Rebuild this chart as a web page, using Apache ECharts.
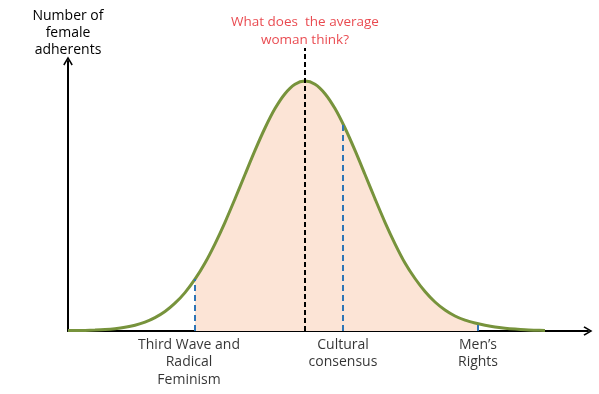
<!DOCTYPE html>
<html><head><meta charset="utf-8">
<script src="https://cdn.jsdelivr.net/npm/echarts@6/dist/echarts.min.js"></script>
<style>html,body{margin:0;padding:0;background:#fff}#c{width:599px;height:394px}</style>
</head><body><div id="c"></div>
<script>
// Curve readings (x = horizontal position, y = number of adherents)
const curveX = [0, 7, 17, 27, 37, 47, 57, 67, 77, 87, 97, 107, 117, 127, 137, 147, 157, 167, 177, 187, 197, 207, 217, 227, 237,
  247, 257, 267, 277, 287, 297, 307, 317, 327, 337, 347, 357, 367, 377, 387, 397, 407, 417, 427, 437, 447, 457, 467, 477];
const curveY = [0.4, 0.5, 0.6, 0.9, 1.4, 2.3, 3.7, 5.8, 8.9, 13.4, 19.5, 27.8, 38.4, 51.8, 68, 87.2, 108.7, 132.2, 156.5, 180.6, 203, 222.4, 237.3, 246.8, 250,
  246.8, 237.3, 222.4, 203, 180.6, 156.5, 132.2, 108.7, 87.2, 68, 52.5, 39.5, 29, 21, 15, 10.8, 8, 5.8, 4, 2.8, 1.9, 1.2, 0.8, 0.5];
// Fill region bounds (between the two outer markers)
const fillFrom = 127, fillTo = 410;
// Marker positions
const markerX = [127, 275, 410];
const markerY = [52, 207, 7.4];
const markerLabelX = [121, 275, 410];
const markerLabels = ['Third Wave and\nRadical\nFeminism', 'Cultural\nconsensus', 'Men\u2019s\nRights'];
// Average line
const avgX = 237, avgTop = 283;
const avgLabel = 'What does  the average\nwoman think?';
const yName = 'Number of\nfemale\nadherents';

const xMax = 520, yMax = 270;
const FONT = 'Open Sans';
const chevron = 'path://M0,10 L6,0 L12,10 L10.4,11.2 L6,3.6 L1.6,11.2 Z';

const curveData = curveX.map((x, i) => [x, curveY[i]]);
const minX = curveX[0], maxX = curveX[curveX.length - 1];
const s1 = (fillFrom - minX) / (maxX - minX), s2 = (fillTo - minX) / (maxX - minX);

const series = [
  {
    type: 'line', data: curveData, smooth: 0.3, symbol: 'none', z: 3,
    lineStyle: { color: '#77933C', width: 3 },
    areaStyle: {
      origin: 'start', opacity: 1,
      color: { type: 'linear', x: 0, y: 0, x2: 1, y2: 0, colorStops: [
        { offset: 0, color: 'rgba(252,228,214,0)' },
        { offset: s1 - 0.0001, color: 'rgba(252,228,214,0)' },
        { offset: s1, color: '#FCE4D6' },
        { offset: s2, color: '#FCE4D6' },
        { offset: s2 + 0.0001, color: 'rgba(252,228,214,0)' },
        { offset: 1, color: 'rgba(252,228,214,0)' }
      ] }
    },
    silent: true
  },
  {
    type: 'line', data: [[avgX, 0], [avgX, avgTop]], symbol: 'none', clip: false, z: 5,
    lineStyle: { color: '#000', width: 2, type: [5, 3] }
  },
  {
    type: 'scatter', data: [[avgX, avgTop]], symbolSize: 0, clip: false, z: 6,
    label: { show: true, position: 'top', distance: -1, formatter: avgLabel,
      color: '#E41B23', fontFamily: FONT, fontSize: 13.5, lineHeight: 18, align: 'center' }
  }
];
markerX.forEach((x, i) => {
  series.push({
    type: 'line', data: [[x, 0], [x, markerY[i]]], symbol: 'none', z: 4,
    lineStyle: { color: '#2E75B6', width: 2, type: [6, 4] }
  });
});
series.push({
  type: 'scatter', data: markerLabelX.map(x => [x, 0]), symbolSize: 0, clip: false, z: 6,
  label: { show: true, position: 'bottom', distance: 5,
    formatter: p => markerLabels[p.dataIndex],
    color: '#000', fontFamily: FONT, fontSize: 14, lineHeight: 17.5, align: 'center' }
});

const chart = echarts.init(document.getElementById('c'), null, { renderer: 'canvas' });
chart.setOption({
  animation: false,
  backgroundColor: '#fff',
  grid: { left: 68, right: 11, top: 61, bottom: 63 },
  xAxis: {
    type: 'value', min: 0, max: xMax,
    axisLine: { show: true, lineStyle: { color: '#000', width: 2 }, symbol: ['none', chevron], symbolSize: [11, 9] },
    axisTick: { show: false }, axisLabel: { show: false }, splitLine: { show: false }
  },
  yAxis: {
    type: 'value', min: 0, max: yMax,
    name: yName, nameLocation: 'end', nameGap: 2,
    nameTextStyle: { color: '#000', fontFamily: FONT, fontSize: 14, lineHeight: 17, align: 'center' },
    axisLine: { show: true, lineStyle: { color: '#000', width: 2 }, symbol: ['none', chevron], symbolSize: [11, 9] },
    axisTick: { show: false }, axisLabel: { show: false }, splitLine: { show: false }
  },
  series: series
});
</script>
</body></html>
